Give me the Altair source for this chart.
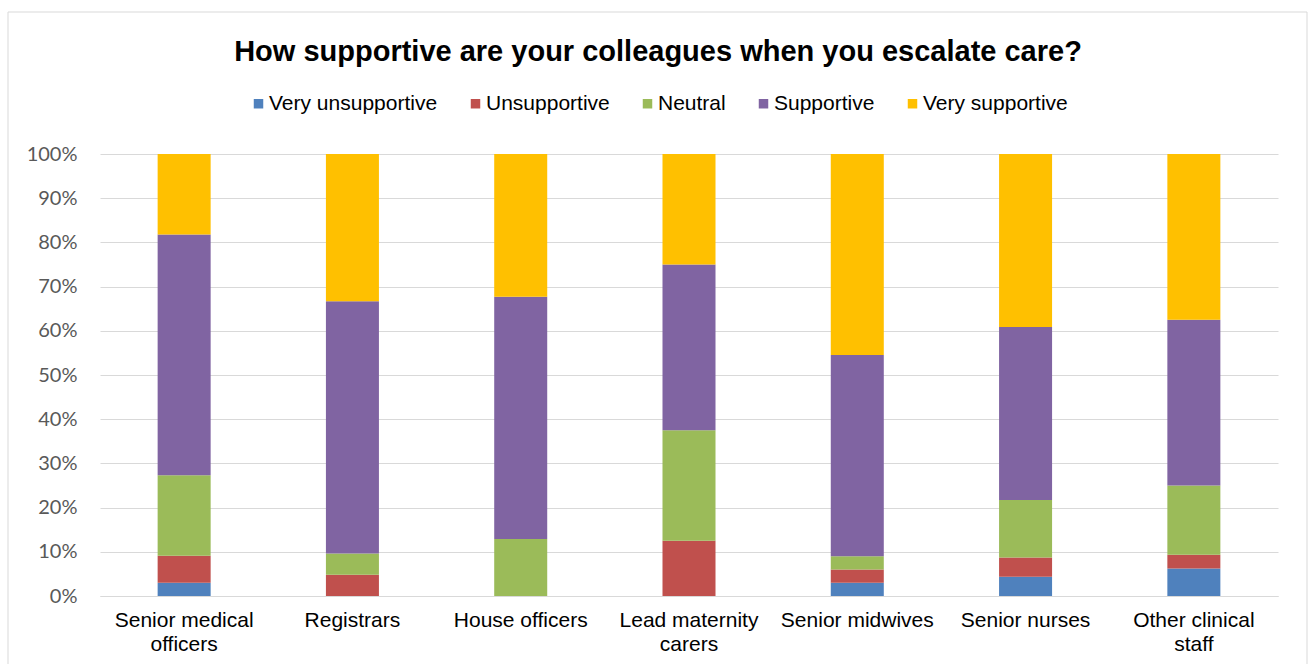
import altair as alt
import pandas as pd

categories = ["Senior medical officers", "Registrars", "House officers",
              "Lead maternity carers", "Senior midwives", "Senior nurses",
              "Other clinical staff"]
series = ["Very unsupportive", "Unsupportive", "Neutral", "Supportive", "Very supportive"]
colors = ["#4F81BD", "#C0504D", "#9BBB59", "#8064A2", "#FFC000"]

very_unsupportive = [3.0, 0.0, 0.0, 0.0, 3.0, 4.35, 6.25]
unsupportive = [6.1, 4.8, 0.0, 12.5, 3.0, 4.35, 3.1]
neutral = [18.2, 4.8, 12.9, 25.0, 3.0, 13.0, 15.65]
supportive = [54.5, 57.1, 54.8, 37.5, 45.5, 39.15, 37.5]
very_supportive = [18.2, 33.3, 32.3, 25.0, 45.5, 39.15, 37.5]

wrapped = {
    "Senior medical officers": ["Senior medical", "officers"],
    "Lead maternity carers": ["Lead maternity", "carers"],
    "Other clinical staff": ["Other clinical", "staff"],
}

rows = []
for si, (name, vals) in enumerate(zip(series, [very_unsupportive, unsupportive, neutral,
                                                supportive, very_supportive])):
    for c, v in zip(categories, vals):
        rows.append({"category": c, "response": name, "value": v, "order": si})
df = pd.DataFrame(rows)

label_expr = ""
for k, v in wrapped.items():
    label_expr += f"datum.label == '{k}' ? ['{v[0]}', '{v[1]}'] : "
label_expr += "datum.label"

FONT = "Liberation Sans"

bars = alt.Chart(df).mark_bar().encode(
    x=alt.X("category:N", sort=categories, title=None,
            scale=alt.Scale(paddingInner=0.685, paddingOuter=0.3425),
            axis=alt.Axis(labelAngle=0, labelFont=FONT, labelFontSize=21,
                          labelColor="#000000", labelExpr=label_expr,
                          labelLineHeight=24, labelPadding=13, ticks=False,
                          domain=True, domainColor="#D9D9D9", domainWidth=1,
                          labelBaseline="top")),
    y=alt.Y("value:Q", stack="normalize", title=None,
            scale=alt.Scale(domain=[0, 1], nice=False),
            axis=alt.Axis(format=".0%", values=[i / 10 for i in range(11)],
                          labelFont="Lato", labelFontSize=20, labelColor="#595959",
                          labelPadding=23, ticks=False, domain=False,
                          grid=True, gridColor="#D9D9D9", gridWidth=1)),
    color=alt.Color("response:N", sort=series,
                    scale=alt.Scale(domain=series, range=colors),
                    legend=alt.Legend(title=None, orient="none", legendX=148, legendY=-61,
                                      direction="horizontal", symbolType="square",
                                      symbolSize=90, symbolStrokeWidth=0,
                                      labelFont=FONT, labelFontSize=21,
                                      labelColor="#000000", labelOffset=0,
                                      labelLimit=400,
                                      columnPadding=27, padding=0)),
    order=alt.Order("order:Q", sort="ascending"),
)

border = alt.Chart(pd.DataFrame({"a": [0]})).mark_rect(
    fillOpacity=0, stroke="#D9D9D9", strokeWidth=1
).encode(x=alt.value(-92), x2=alt.value(1207), y=alt.value(-142), y2=alt.value(530))

chart = alt.layer(border, bars).properties(
    width=1178, height=442,
    title=alt.TitleParams("How supportive are your colleagues when you escalate care?",
                          font=FONT, fontSize=29, fontWeight="bold", color="#000000",
                          anchor="middle", baseline="alphabetic", offset=-78, dx=-31),
    autosize=alt.AutoSizeParams(type="none"),
    padding={"left": 100, "top": 154, "right": 33, "bottom": 68},
).configure_view(strokeWidth=0)

chart.save("out.html", embed_options={"renderer": "svg", "actions": False})
